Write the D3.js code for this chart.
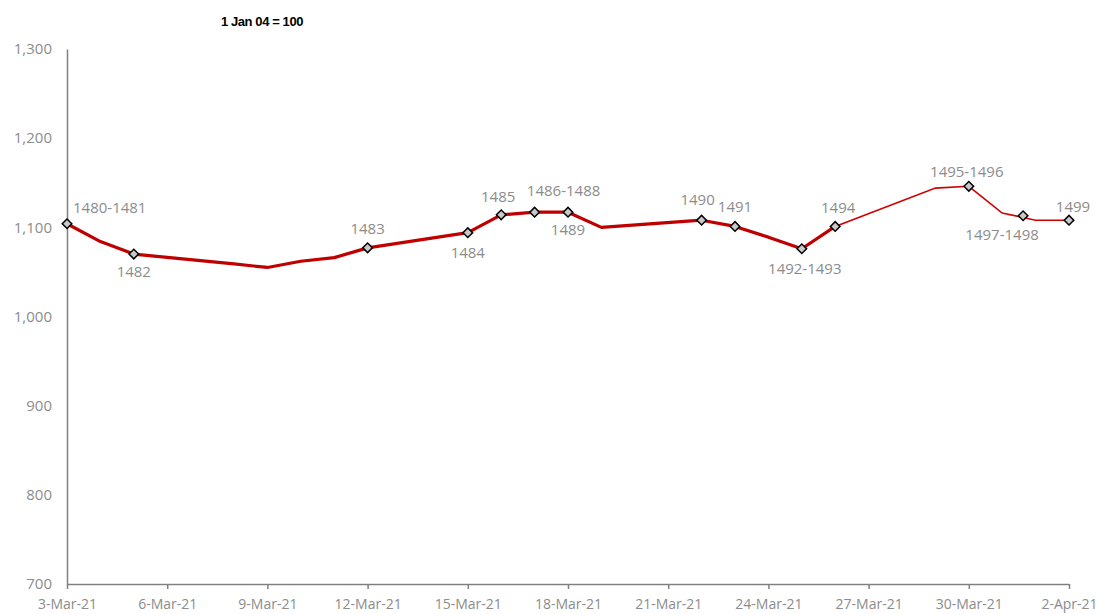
<!DOCTYPE html>
<html><head><meta charset="utf-8">
<script src="https://cdn.jsdelivr.net/npm/d3@7"></script>
<style>body{margin:0;background:#fff}svg{display:block}</style>
</head><body>
<svg id="chart" width="1096" height="614"></svg>
<script>
// ---- data ----
const lineDates = ["2021-03-03","2021-03-04","2021-03-05","2021-03-08","2021-03-09","2021-03-10","2021-03-11","2021-03-12",
  "2021-03-15","2021-03-16","2021-03-17","2021-03-18","2021-03-19","2021-03-22","2021-03-23","2021-03-24","2021-03-25","2021-03-26",
  "2021-03-29","2021-03-30","2021-03-31","2021-04-01","2021-04-02"];
const lineValues = [1104,1084,1070,1059,1055,1062,1066,1077,1094,1114,1117,1117,1100,1108,1101,1089,1076,1101,1144,1146,1116,1108,1108];
const thickUntil = "2021-03-26";

const markerDates = ["2021-03-03","2021-03-05","2021-03-12","2021-03-15","2021-03-16","2021-03-17","2021-03-18","2021-03-22",
  "2021-03-23","2021-03-25","2021-03-26","2021-03-30","2021-03-31T15:00","2021-04-02"];
const markerValues = [1104,1070,1077,1094,1114,1117,1117,1108,1101,1076,1101,1146,1113,1108];
const markerLabels = ["1480-1481","1482","1483","1484","1485","1486-1488","1489","1490","1491","1492-1493","1494","1495-1496","1497-1498","1499"];

const yTicks = [700,800,900,1000,1100,1200,1300];
const xTickStart = "2021-03-03", xTickEnd = "2021-04-02", xTickStepDays = 3;
const title = "1 Jan 04 = 100";

// ---- label placement (offsets from marker, px) ----
const labelOffsets = [[6,-16,"start"],[0,18,"middle"],[0,-19,"middle"],[0,20,"middle"],[-3,-18,"middle"],[29,-21,"middle"],
  [0,18,"middle"],[-4,-20,"middle"],[0,-20,"middle"],[3,20,"middle"],[3,-19,"middle"],[-2,-15,"middle"],[-21,19,"middle"],[4,-13,"middle"]];

// ---- chart ----
const parse = s => new Date(s.length > 10 ? s : s + "T00:00");
const svg = d3.select("#chart");
const x = d3.scaleTime().domain([parse(xTickStart), parse(xTickEnd)]).range([67, 1069]);
const y = d3.scaleLinear().domain([700, 1300]).range([584, 49]);
const gray = "#808080";

const line = d3.line().x(d => x(d.date)).y(d => y(d.v));
const pts = lineDates.map((d, i) => ({date: parse(d), v: lineValues[i]}));

// y axis
const yAxis = svg.append("g").attr("transform", "translate(67,0)")
  .call(d3.axisLeft(y).tickValues(yTicks).tickSize(0).tickPadding(15).tickFormat(d3.format(",")));
yAxis.select(".domain").attr("stroke", gray).attr("stroke-width", 1.5);
yAxis.selectAll("text").attr("fill", "#8c8c8c").style("font-family", "'Open Sans'").style("font-size", "15px");

// x axis
const xTickVals = d3.timeDay.every(xTickStepDays).range(parse(xTickStart), d3.timeDay.offset(parse(xTickEnd), 1));
const xAxis = svg.append("g").attr("transform", "translate(0,584)")
  .call(d3.axisBottom(x).tickValues(d3.timeDay.range(parse(xTickStart), d3.timeDay.offset(parse(xTickEnd),1), xTickStepDays))
    .tickSize(5).tickSizeOuter(0).tickPadding(10).tickFormat(d3.timeFormat("%-d-%b-%y")));
xAxis.select(".domain").attr("stroke", gray).attr("stroke-width", 1.5);
xAxis.selectAll(".tick line").attr("stroke", gray).attr("stroke-width", 1.5);
xAxis.selectAll("text").attr("fill", "#8c8c8c").style("font-family", "'Open Sans'").style("font-size", "14px");

// lines
svg.append("path").datum(pts).attr("d", line).attr("fill", "none").attr("stroke", "#d00000").attr("stroke-width", 1.6);
svg.append("path").datum(pts.filter(p => p.date <= parse(thickUntil))).attr("d", line)
  .attr("fill", "none").attr("stroke", "#c00000").attr("stroke-width", 3.2).attr("stroke-linejoin", "round");

// markers
const mk = markerDates.map((d, i) => ({date: parse(d), v: markerValues[i], label: markerLabels[i], off: labelOffsets[i]}));
const sym = d3.symbol().type(d3.symbolSquare).size(46);
svg.append("g").selectAll("path").data(mk).join("path")
  .attr("d", sym)
  .attr("transform", d => `translate(${x(d.date)},${y(d.v)}) rotate(45)`)
  .attr("fill", "#c8c8c8").attr("stroke", "#000").attr("stroke-width", 1.5);

svg.append("g").selectAll("text").data(mk).join("text")
  .attr("x", d => x(d.date) + d.off[0]).attr("y", d => y(d.v) + d.off[1])
  .attr("dy", "0.35em").attr("text-anchor", d => d.off[2])
  .attr("fill", "#8c8c8c").style("font-family", "'Open Sans'").style("font-size", "15px")
  .text(d => d.label);

// title
svg.append("text").attr("x", 262).attr("y", 21).attr("dy", "0.35em").attr("text-anchor", "middle")
  .style("font-family", "'Liberation Sans', Arial").style("font-weight", "bold").style("font-size", "13px")
  .attr("fill", "#000").attr("letter-spacing", "-0.4").text(title);
</script>
</body></html>
